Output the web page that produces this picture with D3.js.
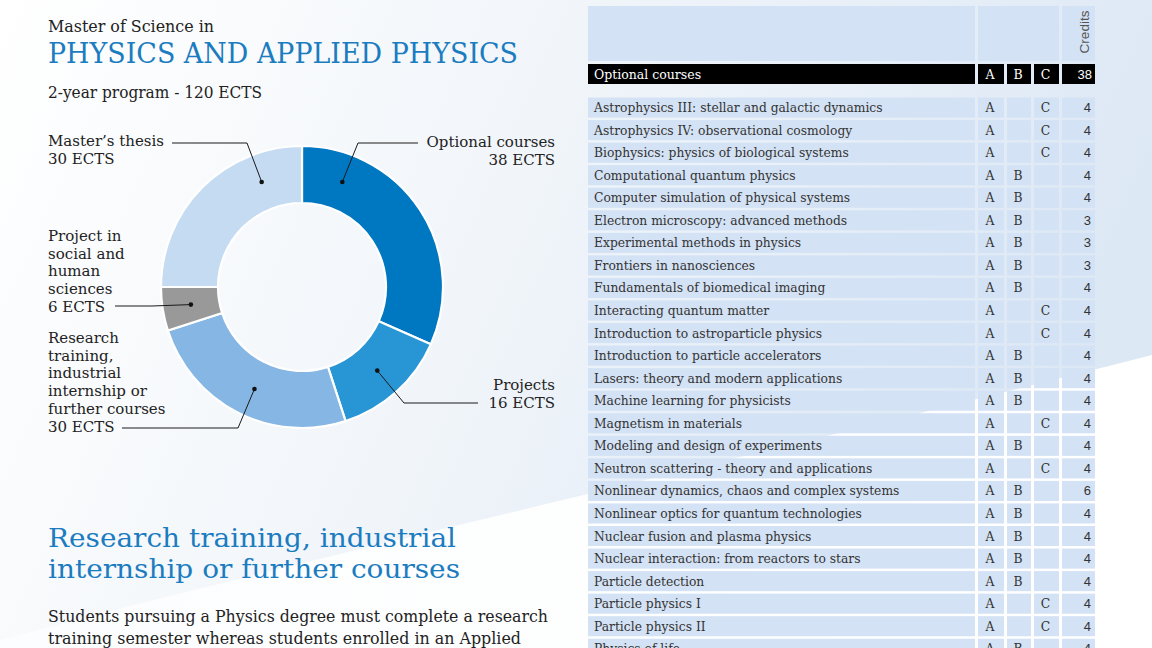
<!DOCTYPE html>
<html>
<head>
<meta charset="utf-8">
<script src="https://cdn.jsdelivr.net/npm/d3@7"></script>
<style>
html,body{margin:0;padding:0;background:#fff;}
svg{display:block;}
</style>
</head>
<body>
<svg id="chart" width="1152" height="648"></svg>
<script>
// ---------------- DATA ----------------
const pieCategories = ["Optional courses", "Projects", "Research training, industrial internship or further courses", "Project in social and human sciences", "Master’s thesis"];
const pieValues = [38, 16, 30, 6, 30];
const pieLabelLines = [
  ["Optional courses", "38 ECTS"],
  ["Projects", "16 ECTS"],
  ["Research", "training,", "industrial", "internship or", "further courses", "30 ECTS"],
  ["Project in", "social and", "human", "sciences", "6 ECTS"],
  ["Master’s thesis", "30 ECTS"]
];
const pieColors = ["#0077c1", "#2895d5", "#86b6e3", "#999999", "#c5dbf2"];

const courseNames = [
  "Astrophysics III: stellar and galactic dynamics",
  "Astrophysics IV: observational cosmology",
  "Biophysics: physics of biological systems",
  "Computational quantum physics",
  "Computer simulation of physical systems",
  "Electron microscopy: advanced methods",
  "Experimental methods in physics",
  "Frontiers in nanosciences",
  "Fundamentals of biomedical imaging",
  "Interacting quantum matter",
  "Introduction to astroparticle physics",
  "Introduction to particle accelerators",
  "Lasers: theory and modern applications",
  "Machine learning for physicists",
  "Magnetism in materials",
  "Modeling and design of experiments",
  "Neutron scattering - theory and applications",
  "Nonlinear dynamics, chaos and complex systems",
  "Nonlinear optics for quantum technologies",
  "Nuclear fusion and plasma physics",
  "Nuclear interaction: from reactors to stars",
  "Particle detection",
  "Particle physics I",
  "Particle physics II",
  "Physics of life"
];
const colA = ["A","A","A","A","A","A","A","A","A","A","A","A","A","A","A","A","A","A","A","A","A","A","A","A","A"];
const colB = ["","","","B","B","B","B","B","B","","","B","B","B","","B","","B","B","B","B","B","","","B"];
const colC = ["C","C","C","","","","","","","C","C","","","","C","","C","","","","","","C","C",""];
const credits = [4,4,4,4,4,3,3,3,4,4,4,4,4,4,4,4,4,6,4,4,4,4,4,4,4];
const tableTitle = "Optional courses";
const tableHeaderLetters = ["A","B","C"];
const tableTotal = 38;

const titleSmall = "Master of Science in";
const titleBig = "PHYSICS AND APPLIED PHYSICS";
const subtitle = "2-year program - 120 ECTS";
const sectionHeading = ["Research training, industrial", "internship or further courses"];
const bodyText = ["Students pursuing a Physics degree must complete a research", "training semester whereas students enrolled in an Applied"];

// ---------------- DRAW ----------------
const svg = d3.select("#chart");
const W = 1152, H = 648;
const SERIF = "'DejaVu Serif', serif";
const SANS = "'Liberation Sans', Arial, sans-serif";
const BLUE = "#1b7cc0";

// background
const defs = svg.append("defs");
const bg = defs.append("linearGradient").attr("id", "bg").attr("x1", 0).attr("y1", 0).attr("x2", 1).attr("y2", 0.25);
bg.append("stop").attr("offset", "0%").attr("stop-color", "#ffffff");
bg.append("stop").attr("offset", "45%").attr("stop-color", "#f2f6fa");
bg.append("stop").attr("offset", "100%").attr("stop-color", "#dde8f5");
svg.append("rect").attr("width", W).attr("height", H).attr("fill", "url(#bg)");
const wg = defs.append("linearGradient").attr("id", "wg").attr("x1", 0).attr("y1", 0).attr("x2", 1).attr("y2", 0);
wg.append("stop").attr("offset", "0%").attr("stop-color", "#fcfdfe");
wg.append("stop").attr("offset", "100%").attr("stop-color", "#ffffff");
svg.append("path")
  .attr("d", "M0,648 L0,640 C300,560 700,470 1152,355 L1152,648 Z")
  .attr("fill", "url(#wg)");

// titles
function fitText(sel, len) {
  sel.attr("textLength", len).attr("lengthAdjust", "spacingAndGlyphs");
}
svg.append("text").attr("x", 48).attr("y", 32).attr("font-family", SERIF).attr("font-size", 16)
  .attr("fill", "#222").text(titleSmall).call(fitText, 166);
svg.append("text").attr("x", 48).attr("y", 63).attr("font-family", SERIF).attr("font-size", 27.5)
  .attr("fill", BLUE).text(titleBig).call(fitText, 470);
svg.append("text").attr("x", 48).attr("y", 98).attr("font-family", SERIF).attr("font-size", 16)
  .attr("fill", "#222").text(subtitle).call(fitText, 214);

// section heading + body
const headW = [408, 412];
sectionHeading.forEach((t, i) => {
  svg.append("text").attr("x", 48).attr("y", 547 + i * 31).attr("font-family", SERIF).attr("font-size", 26)
    .attr("fill", BLUE).text(t).call(fitText, headW[i]);
});
const bodyW = [500, 473];
bodyText.forEach((t, i) => {
  svg.append("text").attr("x", 48).attr("y", 622 + i * 22).attr("font-family", SERIF).attr("font-size", 16.5)
    .attr("fill", "#222").text(t).call(fitText, bodyW[i]);
});

// ---------------- DONUT ----------------
const cx = 302, cy = 287, R = 141, r0 = 84;
const pie = d3.pie().sort(null).value(d => d)(pieValues);
const arc = d3.arc().innerRadius(r0).outerRadius(R);
const g = svg.append("g").attr("transform", `translate(${cx},${cy})`);
g.selectAll("path.slice").data(pie).join("path").attr("class", "slice")
  .attr("d", arc).attr("fill", (d, i) => pieColors[i])
  .attr("stroke", "#ffffff").attr("stroke-width", 2.2);

// label layout (relative to the donut centre)
const rMid = (R + r0) / 2;
const deg = Math.PI / 180;
const labelLayout = [
  { dotAngle: 21 * deg, elbow: [56, -144], end: [116, -144], anchor: "end", tx: 253, ty: -145 },
  { dotAngle: null, elbow: [102, 116], end: [176, 116], anchor: "end", tx: 253, ty: 98 },
  { dotAngle: 205 * deg, elbow: [-64, 141], end: [-180, 141], anchor: "start", tx: -254, ty: 51 },
  { dotAngle: null, elbow: [-150, 19], end: [-187, 19], anchor: "start", tx: -254, ty: -51 },
  { dotAngle: 339 * deg, elbow: [-55, -144], end: [-130, -144], anchor: "start", tx: -254, ty: -146 }
];
const lineH = 17.7;
pie.forEach((d, i) => {
  const L = labelLayout[i];
  let dot;
  if (L.dotAngle === null) {
    dot = d3.arc().innerRadius(rMid).outerRadius(rMid).centroid(d);
  } else {
    dot = [rMid * Math.sin(L.dotAngle), -rMid * Math.cos(L.dotAngle)];
  }
  g.append("polyline")
    .attr("points", [dot, L.elbow, L.end].map(p => p.join(",")).join(" "))
    .attr("fill", "none").attr("stroke", "#1a1a1a").attr("stroke-width", 1);
  g.append("circle").attr("cx", dot[0]).attr("cy", dot[1]).attr("r", 2.3).attr("fill", "#111");
  const t = g.append("text").attr("font-family", SERIF).attr("font-size", 15).attr("fill", "#222")
    .attr("text-anchor", L.anchor);
  pieLabelLines[i].forEach((ln, j) => {
    t.append("tspan").attr("x", L.tx).attr("y", L.ty + 5 + j * lineH).text(ln);
  });
});

// ---------------- TABLE ----------------
const nameX0 = 588, nameX1 = 975;
const colXs = [[978, 1004], [1007, 1031], [1034, 1059]];
const credX = [1062, 1095];
const CELL = "#d3e2f4";
const TXT = "#333";
const rowY = d3.scaleBand().domain(d3.range(courseNames.length)).range([96.3, 96.3 + 22.55 * courseNames.length]).paddingInner(0.11).paddingOuter(0.055);

// header
svg.append("rect").attr("x", nameX0).attr("y", 6).attr("width", nameX1 - nameX0).attr("height", 55).attr("fill", CELL);
svg.append("rect").attr("x", colXs[0][0]).attr("y", 6).attr("width", colXs[2][1] - colXs[0][0]).attr("height", 55).attr("fill", CELL);
svg.append("rect").attr("x", credX[0]).attr("y", 6).attr("width", credX[1] - credX[0]).attr("height", 55).attr("fill", CELL);
svg.append("text").attr("transform", `translate(1089,32) rotate(-90)`).attr("text-anchor", "middle")
  .attr("font-family", SANS).attr("font-size", 13.5).attr("fill", "#555").text("Credits");

// black title row
const by = 64, bh = 20;
svg.append("rect").attr("x", nameX0).attr("y", by).attr("width", nameX1 - nameX0).attr("height", bh).attr("fill", "#000");
svg.append("text").attr("x", 594).attr("y", by + 14.5).attr("font-family", SERIF).attr("font-size", 12.5)
  .attr("fill", "#fff").text(tableTitle);
colXs.forEach((c, i) => {
  svg.append("rect").attr("x", c[0]).attr("y", by).attr("width", c[1] - c[0]).attr("height", bh).attr("fill", "#000");
  svg.append("text").attr("x", (c[0] + c[1]) / 2 - 1).attr("y", by + 14.5).attr("text-anchor", "middle")
    .attr("font-family", SERIF).attr("font-size", 12.5).attr("fill", "#fff").text(tableHeaderLetters[i]);
});
svg.append("rect").attr("x", credX[0]).attr("y", by).attr("width", credX[1] - credX[0]).attr("height", bh).attr("fill", "#000");
svg.append("text").attr("x", credX[1] - 3).attr("y", by + 14.5).attr("text-anchor", "end")
  .attr("font-family", SANS).attr("font-size", 13).attr("fill", "#fff").text(tableTotal);

// rows
const rows = svg.append("g");
courseNames.forEach((name, i) => {
  const y = rowY(i), h = rowY.bandwidth(), cyR = y + h / 2;
  rows.append("rect").attr("x", nameX0).attr("y", y).attr("width", nameX1 - nameX0).attr("height", h).attr("fill", CELL);
  rows.append("text").attr("x", 594).attr("y", cyR + 4.5).attr("font-family", SERIF).attr("font-size", 12.3)
    .attr("fill", TXT).text(name);
  [colA, colB, colC].forEach((col, k) => {
    const c = colXs[k];
    rows.append("rect").attr("x", c[0]).attr("y", y).attr("width", c[1] - c[0]).attr("height", h).attr("fill", CELL);
    if (col[i]) rows.append("text").attr("x", (c[0] + c[1]) / 2 - 1).attr("y", cyR + 4.5).attr("text-anchor", "middle")
      .attr("font-family", SERIF).attr("font-size", 12.3).attr("fill", TXT).text(col[i]);
  });
  rows.append("rect").attr("x", credX[0]).attr("y", y).attr("width", credX[1] - credX[0]).attr("height", h).attr("fill", CELL);
  rows.append("text").attr("x", credX[1] - 4).attr("y", cyR + 4.5).attr("text-anchor", "end")
    .attr("font-family", SANS).attr("font-size", 13).attr("fill", TXT).text(credits[i]);
});
</script>
</body>
</html>
